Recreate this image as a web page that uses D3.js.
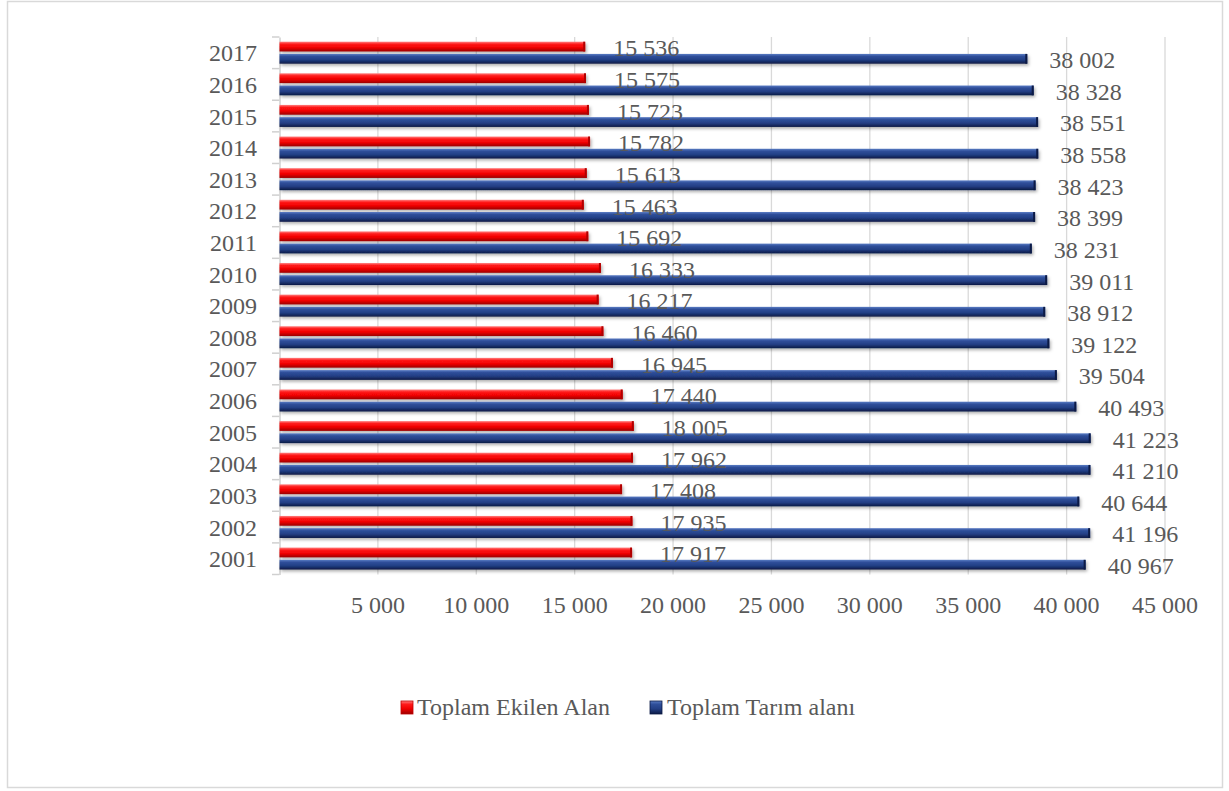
<!DOCTYPE html>
<html><head><meta charset="utf-8">
<script src="https://cdn.jsdelivr.net/npm/d3@7"></script>
<style>body{margin:0;background:#fff}svg{display:block}</style>
</head><body>
<svg id="chart" width="1229" height="791"></svg>
<script>
const years = ["2017","2016","2015","2014","2013","2012","2011","2010","2009","2008","2007","2006","2005","2004","2003","2002","2001"];
const ekilenAlan = [15536,15575,15723,15782,15613,15463,15692,16333,16217,16460,16945,17440,18005,17962,17408,17935,17917];
const tarimAlani = [38002,38328,38551,38558,38423,38399,38231,39011,38912,39122,39504,40493,41223,41210,40644,41196,40967];
const xTicks = [5000,10000,15000,20000,25000,30000,35000,40000,45000];
const seriesNames = ["Toplam Ekilen Alan","Toplam Tarım alanı"];

const svg = d3.select("#chart");
const font = "'Liberation Serif','Times New Roman',serif";
const txt = "#595959";
const fs = 24;

// frame
svg.append("rect").attr("x",7.5).attr("y",1.5).attr("width",1215).attr("height",786)
  .attr("fill","#fff").attr("stroke","#d9d9d9").attr("stroke-width",1.5);

const defs = svg.append("defs");
function grad(id, stops){
  const g = defs.append("linearGradient").attr("id",id).attr("x1",0).attr("y1",0).attr("x2",0).attr("y2",1);
  stops.forEach(s=>g.append("stop").attr("offset",s[0]).attr("stop-color",s[1]));
}
grad("gRed",[[0,"#ff8080"],[0.25,"#ff1a1a"],[0.6,"#f00000"],[1,"#9a0000"]]);
grad("gBlue",[[0,"#5a7cc4"],[0.25,"#2f4f9a"],[0.6,"#233f85"],[1,"#0c1a45"]]);
const f = defs.append("filter").attr("id","shadow").attr("x","-5%").attr("y","-50%").attr("width","110%").attr("height","250%");
f.append("feDropShadow").attr("dx",1.5).attr("dy",2).attr("stdDeviation",1.5).attr("flood-color","#000").attr("flood-opacity",0.3);

const x = d3.scaleLinear().domain([0,45000]).range([279.5,1165]);
const y0 = d3.scaleBand().domain(years).range([37,574.5]);
const y1 = d3.scaleBand().domain([0,1]).range([4.7,26.7]).paddingInner(0.2);

// gridlines
svg.append("g").selectAll("line").data(xTicks).join("line")
  .attr("x1",d=>x(d)).attr("x2",d=>x(d)).attr("y1",37).attr("y2",574.5)
  .attr("stroke","#d9d9d9").attr("stroke-width",1.3);

// left axis
const yAxis = d3.axisLeft(y0).tickSize(0).tickFormat("");
const ya = svg.append("g").attr("transform","translate(279.5,0)").call(yAxis);
ya.select(".domain").attr("stroke","#d0d0d0").attr("stroke-width",1.5);
const bounds = years.map(d=>y0(d)).concat([574.5]);
svg.append("g").selectAll("line").data(bounds).join("line")
  .attr("x1",272).attr("x2",279.5).attr("y1",d=>d).attr("y2",d=>d)
  .attr("stroke","#d0d0d0").attr("stroke-width",1.5);

// year labels
svg.append("g").selectAll("text").data(years).join("text")
  .attr("x",257).attr("y",d=>y0(d)+y0.bandwidth()/2+8.5)
  .attr("text-anchor","end").attr("font-family",font).attr("font-size",fs).attr("fill",txt)
  .text(d=>d);

// x tick labels
const fmt = v => d3.format(",")(v).replace(/,/g," ");
svg.append("g").selectAll("text").data(xTicks).join("text")
  .attr("x",d=>x(d)).attr("y",613).attr("text-anchor","middle")
  .attr("font-family",font).attr("font-size",fs).attr("fill",txt).text(fmt);

// bars
const series = [
  {vals: ekilenAlan, fill:"url(#gRed)", edge:"#b00000", off:28},
  {vals: tarimAlani, fill:"url(#gBlue)", edge:"#0c1a45", off:22}
];
series.forEach((s,si)=>{
  const g = svg.append("g");
  g.selectAll("rect").data(years).join("rect")
    .attr("x",x(0)).attr("y",(d)=>y0(d)+y1(si))
    .attr("width",(d,i)=>x(s.vals[i])-x(0)).attr("height",y1.bandwidth())
    .attr("fill",s.fill).attr("filter","url(#shadow)");
  g.selectAll("line").data(years).join("line")
    .attr("x1",(d,i)=>x(s.vals[i])-1).attr("x2",(d,i)=>x(s.vals[i])-1)
    .attr("y1",d=>y0(d)+y1(si)).attr("y2",d=>y0(d)+y1(si)+y1.bandwidth())
    .attr("stroke",s.edge).attr("stroke-width",2);
});
// labels
series.forEach((s,si)=>{
  svg.append("g").selectAll("text").data(years).join("text")
    .attr("x",(d,i)=>x(s.vals[i])+s.off)
    .attr("y",d=>y0(d)+y1(si)+y1.bandwidth()+(si===0?5:4.5))
    .attr("font-family",font).attr("font-size",fs).attr("fill",txt)
    .text((d,i)=>fmt(s.vals[i]));
});

// legend
const leg = [{name:seriesNames[0],fill:"url(#gRed)",x:401,tx:417},{name:seriesNames[1],fill:"url(#gBlue)",x:650,tx:667}];
const lg = svg.append("g");
leg.forEach(l=>{
  lg.append("rect").attr("x",l.x).attr("y",701).attr("width",12).attr("height",13).attr("fill",l.fill)
    .attr("stroke",l.x<500?"#c00000":"#0c1a45").attr("stroke-width",0.8);
  lg.append("text").attr("x",l.tx).attr("y",715).attr("font-family",font).attr("font-size",fs).attr("fill",txt).text(l.name);
});
</script>
</body></html>
